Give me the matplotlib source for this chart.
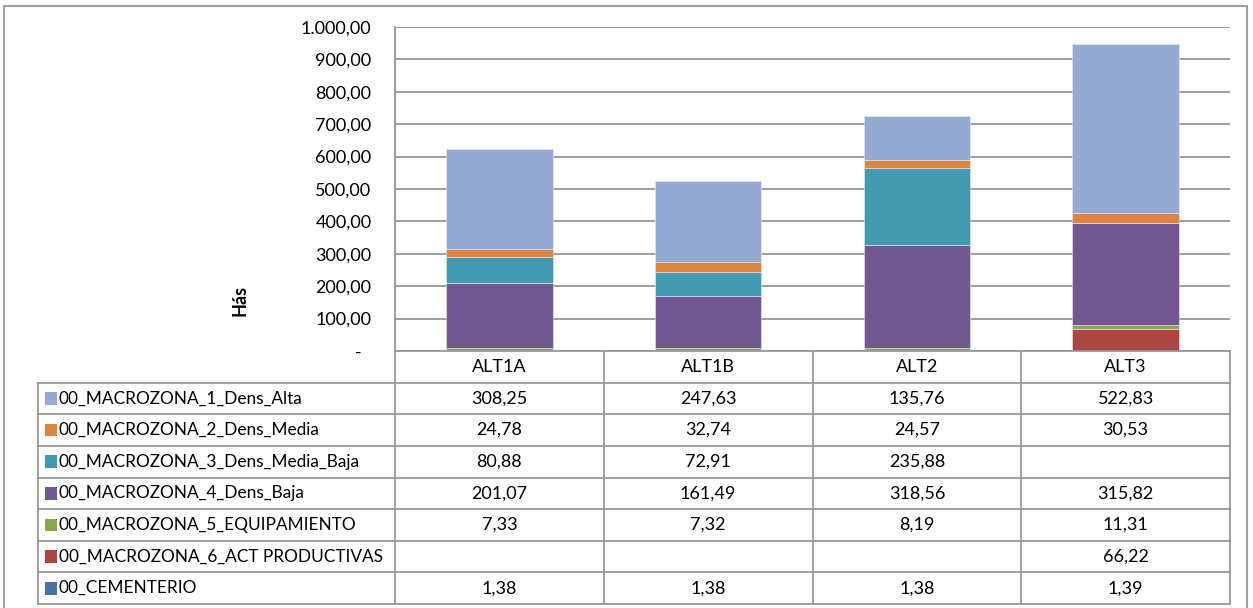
import numpy as np
import matplotlib.pyplot as plt
from matplotlib.patches import Rectangle
from matplotlib.ticker import FuncFormatter

plt.rcParams['font.family'] = ['Lato', 'DejaVu Sans']

categories = ['ALT1A', 'ALT1B', 'ALT2', 'ALT3']
names = ['00_MACROZONA_1_Dens_Alta', '00_MACROZONA_2_Dens_Media',
         '00_MACROZONA_3_Dens_Media_Baja', '00_MACROZONA_4_Dens_Baja',
         '00_MACROZONA_5_EQUIPAMIENTO', '00_MACROZONA_6_ACT PRODUCTIVAS',
         '00_CEMENTERIO']
dens_alta = [308.25, 247.63, 135.76, 522.83]
dens_media = [24.78, 32.74, 24.57, 30.53]
dens_media_baja = [80.88, 72.91, 235.88, None]
dens_baja = [201.07, 161.49, 318.56, 315.82]
equipamiento = [7.33, 7.32, 8.19, 11.31]
act_productivas = [None, None, None, 66.22]
cementerio = [1.38, 1.38, 1.38, 1.39]
series = [dens_alta, dens_media, dens_media_baja, dens_baja,
          equipamiento, act_productivas, cementerio]
colors = ['#95AAD2', '#DD8440', '#4299B0', '#71598F', '#8AA74F', '#AB4643', '#4672A8']

W, H = 1253, 608
fig = plt.figure(figsize=(W / 100, H / 100), dpi=100)


def fx(px):
    return px / W


def fy(py):
    return 1 - py / H


def fmt(v):
    s = f"{v:,.2f}"
    return s.replace(',', 'X').replace('.', ',').replace('X', '.')


grid_c = '#8c8c8c'
fs = 13

# bar chart
ax = fig.add_axes([fx(395), fy(351), fx(1230) - fx(395), fy(27) - fy(351)])
x = np.arange(len(categories))
bottom = np.zeros(len(categories))
for vals, col in reversed(list(zip(series, colors))):
    v = np.array([0.0 if a is None else a for a in vals])
    ax.bar(x, v, 0.51, bottom=bottom, color=col, edgecolor='#e8ecf4', linewidth=0.4, zorder=3)
    bottom += v

ax.set_xlim(-0.5, 3.5)
ax.set_ylim(0, 1000)
ax.set_yticks(np.arange(0, 1001, 100))
ax.yaxis.set_major_formatter(FuncFormatter(lambda v, p: '-  ' if v == 0 else fmt(v)))
ax.yaxis.grid(True, color=grid_c, linewidth=1.2)
ax.set_axisbelow(True)
ax.set_xticks([])
ax.tick_params(axis='y', length=0, pad=17, labelsize=fs)
for s in ['top', 'right', 'bottom']:
    ax.spines[s].set_visible(False)
ax.spines['left'].set_color(grid_c)
ax.spines['left'].set_linewidth(1.2)

fig.text(fx(240), fy(300), 'Hás', rotation=90, fontweight='bold',
         ha='center', va='center', fontsize=fs)

# data table
tax = fig.add_axes([fx(38), fy(604), fx(1230) - fx(38), fy(351) - fy(604)])
col_px = 835 / 4
x0 = -0.5 - (395 - 38) / col_px
nrows = len(names) + 1
tax.set_xlim(x0, 3.5)
tax.set_ylim(nrows, 0)
tax.axis('off')

lk = dict(color='#999999', linewidth=1.3, clip_on=False)
tax.plot([-0.5, 3.5], [0, 0], **lk)
for r in range(1, nrows + 1):
    tax.plot([x0, 3.5], [r, r], **lk)
for c in np.arange(-0.5, 3.6, 1.0):
    tax.plot([c, c], [0, nrows], **lk)
tax.plot([x0, x0], [1, nrows], **lk)

for i, cat in enumerate(categories):
    tax.text(i, 0.5, cat, ha='center', va='center', fontsize=fs)

for r, (name, vals, col) in enumerate(zip(names, series, colors)):
    yc = r + 1.5
    tax.add_patch(Rectangle((x0 + 7 / col_px, yc - 0.2), 12 / col_px, 0.4,
                            facecolor=col, edgecolor='none'))
    tax.text(x0 + 21 / col_px, yc, name, ha='left', va='center', fontsize=12.4)
    for i, v in enumerate(vals):
        if v is not None:
            tax.text(i, yc, fmt(v), ha='center', va='center', fontsize=fs)

# outer chart border
fig.add_artist(Rectangle((fx(4), -0.02), fx(1247) - fx(4), fy(6) + 0.02,
                         transform=fig.transFigure, fill=False,
                         edgecolor='#a0a0a0', linewidth=1.5))

fig.savefig('out.png', dpi=100)
